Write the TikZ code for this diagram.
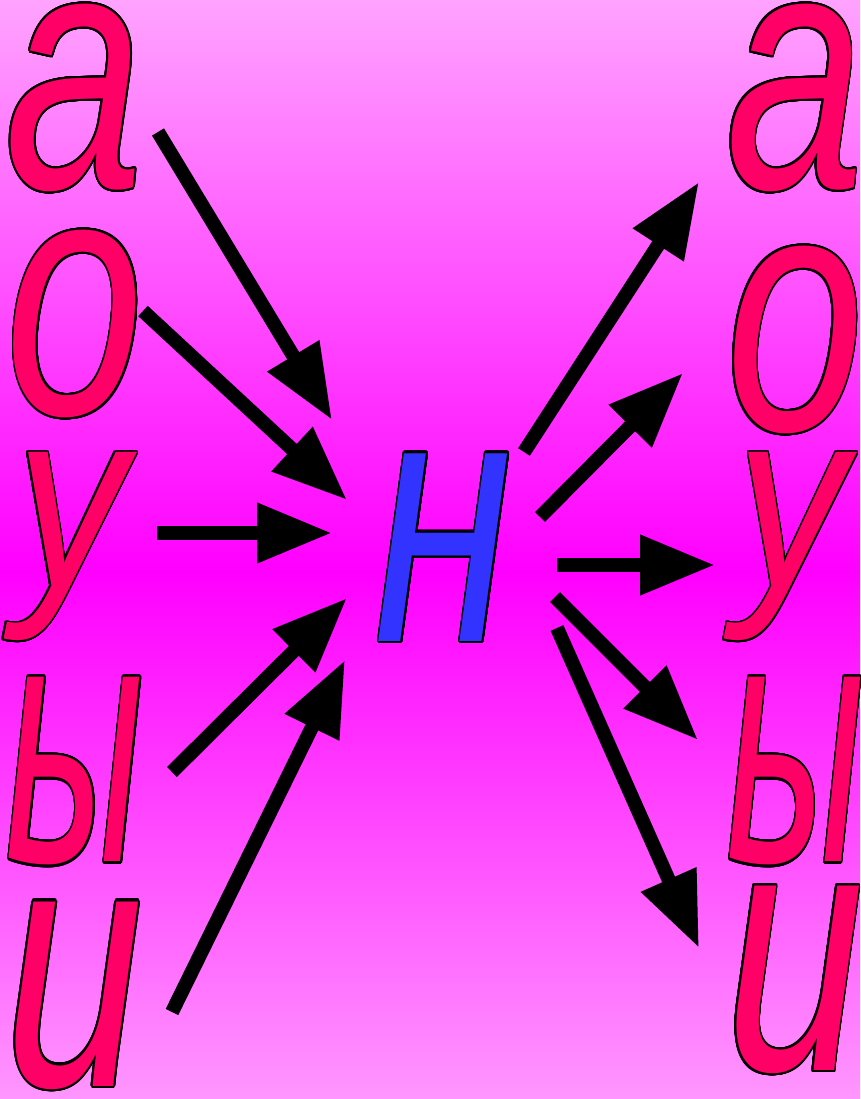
\documentclass[tikz,border=0pt]{standalone}
\usepackage{fontspec}
\usepackage{graphicx}
\usepackage{contour}
\usetikzlibrary{arrows.meta}

\newfontfamily\letterfont{Liberation Sans}
\contourlength{1.3pt}
\contournumber{32}

\definecolor{bgtop}{RGB}{255,163,255}
\definecolor{bgmid}{RGB}{255,0,255}
\definecolor{bgbot}{RGB}{255,150,255}
\definecolor{vowelred}{RGB}{255,0,102}
\definecolor{nblue}{RGB}{51,51,255}

\pgfdeclareverticalshading{bgshade}{100bp}{color(0bp)=(bgbot); color(25bp)=(bgbot); color(49bp)=(bgmid); color(75bp)=(bgtop); color(100bp)=(bgtop)}

% one stretched outlined letter
\newcommand{\bigglyph}[3][138pt]{\resizebox*{#1}{190pt}{\fontsize{200}{200}\selectfont\color{#2}\contour{black}{\letterfont\itshape #3}}}

\tikzset{
    glyph/.style={inner sep=0pt, outer sep=0pt},
    pointer/.style={line width=14pt, -{Triangle[length=75pt,width=57pt]}}
}

\begin{document}
\begin{tikzpicture}[x=1pt, y=-1pt]
        % background
        \shade[shading=bgshade] (0,0) rectangle (860,1099);
        \useasboundingbox (0,0) rectangle (860,1099);

        % left column
        \node[glyph] (la) at (74.5,99) {\bigglyph{vowelred}{а}};
        \node[glyph] (lo) at (75,325) {\bigglyph{vowelred}{о}};
        \node[glyph] (lu) at (71,547.5) {\bigglyph[110pt]{vowelred}{у}};
        \node[glyph] (ly) at (75,772.5) {\bigglyph{vowelred}{ы}};
        \node[glyph] (li) at (74.5,996.5) {\bigglyph{vowelred}{и}};

        % right column
        \node[glyph] (ra) at (795,99) {\bigglyph{vowelred}{а}};
        \node[glyph] (ro) at (795,341) {\bigglyph{vowelred}{о}};
        \node[glyph] (ru) at (791.5,547.5) {\bigglyph[110pt]{vowelred}{у}};
        \node[glyph] (ry) at (795.5,772.5) {\bigglyph{vowelred}{ы}};
        \node[glyph] (ri) at (795,981) {\bigglyph{vowelred}{и}};

        % centre letter
        \node[glyph] (n) at (444,548.5) {\bigglyph{nblue}{н}};

        % arrow ends
        \coordinate (in1) at (158,132);   \coordinate (to1) at (332,420);
        \coordinate (in2) at (143,311);   \coordinate (to2) at (347,500);
        \coordinate (in3) at (157,533);   \coordinate (to3) at (332,533);
        \coordinate (in4) at (172,772);   \coordinate (to4) at (347,598);
        \coordinate (in5) at (172,1012);  \coordinate (to5) at (345,660);

        \coordinate (out1) at (524,452);  \coordinate (at1) at (699,182);
        \coordinate (out2) at (540,517);  \coordinate (at2) at (683,373);
        \coordinate (out3) at (557,565);  \coordinate (at3) at (715,565);
        \coordinate (out4) at (555,597);  \coordinate (at4) at (698,740);
        \coordinate (out5) at (557,628);  \coordinate (at5) at (699,948);

        % arrows into н
        \draw[pointer] (in1) -- (to1);
        \draw[pointer] (in2) -- (to2);
        \draw[pointer] (in3) -- (to3);
        \draw[pointer] (in4) -- (to4);
        \draw[pointer] (in5) -- (to5);

        % arrows out of н
        \draw[pointer] (out1) -- (at1);
        \draw[pointer] (out2) -- (at2);
        \draw[pointer] (out3) -- (at3);
        \draw[pointer] (out4) -- (at4);
        \draw[pointer] (out5) -- (at5);
    \end{tikzpicture}
\end{document}
